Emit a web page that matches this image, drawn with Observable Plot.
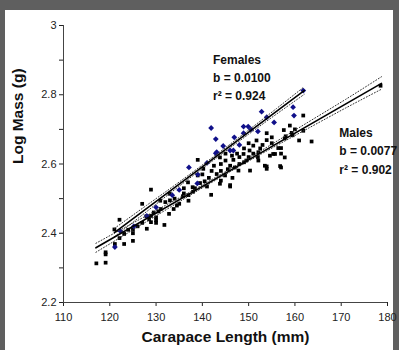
<!DOCTYPE html>
<html>
<head>
<meta charset="utf-8">
<script src="https://cdn.jsdelivr.net/npm/d3@7"></script>
<script src="https://cdn.jsdelivr.net/npm/@observablehq/plot@0.6"></script>
<style>
  html, body { margin: 0; padding: 0; background: #5f5f5f; width: 399px; height: 350px; overflow: hidden; }
  #panel { position: absolute; left: 5px; top: 10px; width: 388px; height: 340px; background: #ffffff; }
</style>
</head>
<body>
<div id="panel"></div>
<script>
// ---- data ----
const xTicks = [110, 120, 130, 140, 150, 160, 170, 180];
const yTicks = [2.2, 2.3, 2.4, 2.5, 2.6, 2.7, 2.8, 2.9, 3.0];

const femalePoints = [
  [121.1,2.360],[122.3,2.406],[125.2,2.420],[130.0,2.475],[137.1,2.590],[139.0,2.570],
  [141.0,2.603],[142.9,2.631],[141.9,2.704],[142.9,2.672],[143.1,2.634],[146.0,2.639],
  [146.9,2.677],[148.0,2.655],[148.9,2.708],[149.9,2.708],[148.9,2.689],[152.0,2.694],
  [152.8,2.751],[153.9,2.735],[159.6,2.764],[159.8,2.740],[161.8,2.812],[138.9,2.544],
  [146.7,2.639],[133.5,2.510],[135.0,2.525],[144.5,2.652],[150.5,2.700],[155.5,2.720],[128.0,2.450]
];

const malePoints = [
  [117.1,2.313],[119.1,2.315],[119.1,2.345],[119.1,2.339],[121.1,2.369],[121.0,2.411],
  [122.1,2.439],[122.1,2.386],[123.1,2.369],[123.1,2.398],[125.0,2.378],[125.0,2.410],
  [125.0,2.400],[127.0,2.485],[128.0,2.413],[127.9,2.449],[128.9,2.526],[128.9,2.450],
  [128.9,2.432],[130.0,2.446],[130.0,2.438],[130.0,2.430],[130.9,2.494],[131.8,2.424],
  [132.8,2.456],[132.9,2.514],[133.8,2.470],[135.0,2.485],[135.8,2.507],[137.0,2.494],
  [137.0,2.510],[137.9,2.533],[138.4,2.530],[130.5,2.463],[136.9,2.547],[139.0,2.612],
  [139.0,2.567],[140.2,2.586],[143.8,2.619],[143.8,2.543],[141.9,2.511],[153.9,2.689],
  [157.6,2.698],[146.4,2.624],[146.7,2.612],[146.0,2.595],[144.9,2.567],[148.9,2.629],
  [150.2,2.639],[149.0,2.605],[151.0,2.653],[151.7,2.668],[152.1,2.610],[153.5,2.595],
  [155.3,2.629],[156.4,2.646],[156.8,2.594],[150.3,2.581],[147.8,2.581],[144.0,2.552],
  [143.1,2.571],[141.4,2.560],[146.0,2.539],[146.0,2.535],[158.9,2.711],[159.3,2.690],
  [159.5,2.683],[161.8,2.740],[161.8,2.696],[160.9,2.668],[163.6,2.665],[157.8,2.674],
  [157.0,2.646],[157.0,2.630],[157.8,2.619],[157.0,2.590],[155.7,2.629],[178.5,2.826],
  [155.0,2.677],[153.9,2.669],[154.6,2.624],[152.1,2.634],[153.9,2.593],[153.9,2.586],
  [140.5,2.550],[142.0,2.580],[142.5,2.595],[144.0,2.600],[145.0,2.610],[148.0,2.620],
  [149.0,2.645],[150.0,2.620],[151.0,2.630],[152.5,2.645],[153.0,2.655],[148.0,2.600],
  [147.0,2.590],[145.5,2.585],[141.0,2.535],[139.5,2.545],[138.0,2.520],[136.0,2.515],
  [134.0,2.500],[132.0,2.490],[131.0,2.470],[134.5,2.480],[133.0,2.495],[129.5,2.460],
  [126.0,2.420],[124.0,2.410],[127.0,2.430],[128.5,2.440],[136.0,2.530],[140.0,2.570],
  [145.0,2.630],[150.0,2.660],[155.0,2.660],[158.0,2.680],[160.0,2.700],[144.0,2.580],
  [147.5,2.630],[149.5,2.610],[152.0,2.620],[146.5,2.560]
];

// fitted regression lines (end points)
const femaleFit = [[121, 2.402], [162, 2.812]];
const maleFit = [[117, 2.358], [178.7, 2.833]];

// 95% confidence bands: [x, upper, lower]
const femaleBand = [
  [121,2.414,2.390],[128,2.481,2.463],[135,2.548,2.536],[143,2.627,2.617],
  [150,2.698,2.686],[156,2.760,2.744],[162,2.823,2.801]
];
const maleBand = [
  [117,2.371,2.345],[127,2.444,2.426],[137,2.517,2.507],[145,2.578,2.570],
  [153,2.641,2.631],[163,2.722,2.704],[171,2.787,2.762],[178.7,2.852,2.816]
];

// annotations: [x, y(top), text]
const annotations = [
  [142.3, 2.927, "Females\nb = 0.0100\nr² = 0.924"],
  [169.6, 2.715, "Males\nb = 0.0077\nr² = 0.902"]
];

const xLabel = "Carapace Length (mm)";
const yLabel = "Log Mass (g)";

// ---- chart ----
const fmt = d => String(+(+d).toFixed(1));
const toXY = a => a.map(([x, y]) => ({x, y}));

const chart = Plot.plot({
  width: 388,
  height: 340,
  marginLeft: 58,
  marginRight: 6,
  marginTop: 15,
  marginBottom: 48,
  style: {background: "transparent", fontFamily: "'Liberation Sans', Arial, sans-serif", fontSize: "11px", color: "#222", overflow: "visible"},
  x: {domain: [110, 180], ticks: xTicks, tickSize: 4, tickPadding: 7, tickFormat: fmt, label: null},
  y: {domain: [2.2, 3.0], ticks: yTicks, tickSize: 4, tickPadding: 3, tickFormat: (d, i) => (i % 2 === 0 ? fmt(d) : ""), label: null},
  marks: [
    Plot.ruleX([110], {y1: 2.2, y2: 3.0, stroke: "#444"}),
    Plot.ruleY([2.2], {x1: 110, x2: 180, stroke: "#444"}),
    Plot.dot(toXY(malePoints), {x: "x", y: "y", symbol: "square", r: 2.1, fill: "#000", stroke: "none"}),
    Plot.dot(toXY(femalePoints), {x: "x", y: "y", symbol: "diamond2", r: 2.6, fill: "#10108a", stroke: "none"}),
    Plot.line(femaleBand, {x: d => d[0], y: d => d[1], curve: "natural", stroke: "#333", strokeDasharray: "1,2", strokeWidth: 1}),
    Plot.line(femaleBand, {x: d => d[0], y: d => d[2], curve: "natural", stroke: "#333", strokeDasharray: "1,2", strokeWidth: 1}),
    Plot.line(maleBand, {x: d => d[0], y: d => d[1], curve: "natural", stroke: "#333", strokeDasharray: "1,2", strokeWidth: 1}),
    Plot.line(maleBand, {x: d => d[0], y: d => d[2], curve: "natural", stroke: "#333", strokeDasharray: "1,2", strokeWidth: 1}),
    Plot.line(femaleFit, {x: d => d[0], y: d => d[1], stroke: "#000", strokeWidth: 1.6}),
    Plot.line(maleFit, {x: d => d[0], y: d => d[1], stroke: "#000", strokeWidth: 1.6}),
    Plot.text(annotations, {x: d => d[0], y: d => d[1], text: d => d[2], textAnchor: "start", lineAnchor: "top", lineHeight: 1.52, fontSize: 12, fontWeight: "bold", fill: "#111"}),
    Plot.text([xLabel], {text: d => d, frameAnchor: "bottom", dy: 39, fontSize: 15.5, fontWeight: "bold", fill: "#111"}),
    Plot.text([yLabel], {text: d => d, frameAnchor: "left", dx: -45, rotate: -90, fontSize: 15.5, fontWeight: "bold", fill: "#111"})
  ]
});
document.getElementById("panel").appendChild(chart);
</script>
</body>
</html>
